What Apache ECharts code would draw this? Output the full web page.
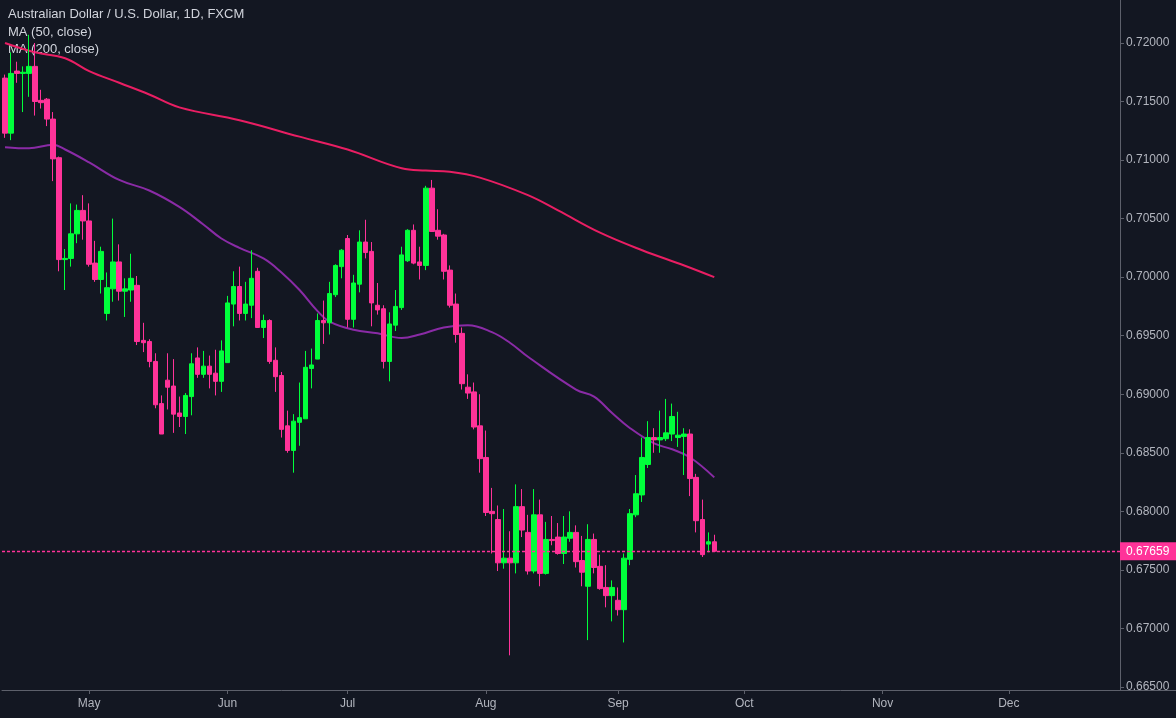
<!DOCTYPE html>
<html><head><meta charset="utf-8">
<script src="https://cdn.jsdelivr.net/npm/echarts@6/dist/echarts.min.js"></script>
<style>html,body{margin:0;padding:0;background:#131722}#c{width:1176px;height:718px}</style>
</head><body><div id="c"></div>
<script>
const startDate = '2019-04-11';
const totalSlots = 186;
const yTicks = [0.665,0.67,0.675,0.68,0.685,0.69,0.695,0.70,0.705,0.71,0.715,0.72];
const lastPrice = 0.67659;
// [open, close, low, high]
const ohlc = [
[0.7170,0.7123,0.7119,0.7173],[0.7123,0.7174,0.7117,0.7192],[0.7176,0.7174,0.7166,0.7184],[0.7174,0.7175,0.7141,0.7180],
[0.7174,0.7180,0.7154,0.7207],[0.7180,0.7150,0.7138,0.7200],[0.7151,0.7149,0.7144,0.7160],[0.7152,0.7135,0.7129,0.7153],
[0.7135,0.7101,0.7082,0.7141],[0.7102,0.7015,0.7005,0.7103],[0.7015,0.7016,0.6989,0.7024],[0.7016,0.7037,0.7009,0.7063],
[0.7037,0.7057,0.7029,0.7062],[0.7057,0.7048,0.7032,0.7070],[0.7048,0.7011,0.7009,0.7063],[0.7012,0.6998,0.6996,0.7031],
[0.6998,0.7022,0.6986,0.7026],[0.6969,0.6991,0.6963,0.7004],[0.6990,0.7013,0.6979,0.7050],[0.7013,0.6988,0.6980,0.7028],
[0.6988,0.6990,0.6966,0.6999],[0.6989,0.6999,0.6979,0.7020],[0.6993,0.6945,0.6942,0.7001],[0.6946,0.6944,0.6936,0.6961],
[0.6945,0.6928,0.6923,0.6947],[0.6928,0.6891,0.6888,0.6935],[0.6892,0.6866,0.6866,0.6899],[0.6912,0.6906,0.6887,0.6935],
[0.6907,0.6883,0.6867,0.6930],[0.6884,0.6881,0.6872,0.6898],[0.6881,0.6899,0.6866,0.6901],[0.6898,0.6926,0.6882,0.6935],
[0.6931,0.6917,0.6914,0.6940],[0.6917,0.6924,0.6914,0.6937],[0.6924,0.6917,0.6905,0.6933],[0.6918,0.6911,0.6899,0.6938],
[0.6911,0.6937,0.6902,0.6946],[0.6927,0.6978,0.6927,0.6984],[0.6977,0.6992,0.6958,0.7005],[0.6992,0.6969,0.6963,0.7009],
[0.6969,0.6977,0.6963,0.6996],[0.6976,0.6999,0.6965,0.7023],[0.7005,0.6957,0.6957,0.7008],[0.6957,0.6963,0.6948,0.6968],
[0.6963,0.6928,0.6926,0.6964],[0.6929,0.6915,0.6902,0.6940],[0.6916,0.6870,0.6863,0.6919],[0.6873,0.6852,0.6850,0.6886],
[0.6852,0.6877,0.6833,0.6883],[0.6876,0.6880,0.6856,0.6910],[0.6879,0.6923,0.6879,0.6937],[0.6922,0.6925,0.6905,0.6939],
[0.6930,0.6963,0.6930,0.6969],[0.6963,0.6961,0.6943,0.6980],[0.6961,0.6986,0.6951,0.6996],[0.6985,0.7010,0.6983,0.7011],
[0.7009,0.7023,0.6999,0.7024],[0.7033,0.6964,0.6957,0.7036],[0.6964,0.6995,0.6957,0.7002],[0.6994,0.7030,0.6987,0.7040],
[0.7030,0.7021,0.7016,0.7049],[0.7022,0.6978,0.6958,0.7030],[0.6976,0.6972,0.6968,0.6995],[0.6973,0.6928,0.6922,0.6976],
[0.6928,0.6960,0.6911,0.6970],[0.6959,0.6975,0.6954,0.6989],[0.6974,0.7019,0.6972,0.7026],[0.7014,0.7040,0.7013,0.7041],
[0.7040,0.7012,0.7011,0.7045],[0.7013,0.7010,0.6998,0.7026],[0.7010,0.7076,0.7006,0.7078],[0.7076,0.7039,0.7039,0.7083],
[0.7040,0.7035,0.7032,0.7058],[0.7036,0.7005,0.6998,0.7037],[0.7006,0.6976,0.6974,0.7010],[0.6977,0.6951,0.6944,0.6986],
[0.6952,0.6909,0.6904,0.6957],[0.6906,0.6901,0.6896,0.6917],[0.6902,0.6872,0.6870,0.6910],[0.6873,0.6845,0.6833,0.6900],
[0.6846,0.6799,0.6796,0.6869],[0.6800,0.6798,0.6764,0.6820],[0.6793,0.6756,0.6749,0.6805],[0.6756,0.6760,0.6751,0.6802],
[0.6760,0.6756,0.6677,0.6783],[0.6756,0.6804,0.6747,0.6823],[0.6804,0.6784,0.6778,0.6819],[0.6782,0.6749,0.6746,0.6797],
[0.6749,0.6797,0.6747,0.6819],[0.6797,0.6747,0.6736,0.6810],[0.6747,0.6776,0.6746,0.6791],[0.6776,0.6775,0.6771,0.6796],
[0.6778,0.6764,0.6763,0.6790],[0.6764,0.6778,0.6755,0.6796],[0.6777,0.6782,0.6774,0.6800],[0.6782,0.6757,0.6752,0.6788],
[0.6758,0.6748,0.6736,0.6779],[0.6736,0.6776,0.6690,0.6789],[0.6776,0.6752,0.6747,0.6781],[0.6753,0.6734,0.6733,0.6763],
[0.6735,0.6728,0.6718,0.6754],[0.6728,0.6735,0.6706,0.6741],[0.6724,0.6716,0.6711,0.6735],[0.6716,0.6760,0.6688,0.6764],
[0.6759,0.6798,0.6754,0.6802],[0.6797,0.6815,0.6795,0.6831],[0.6814,0.6846,0.6808,0.6863],[0.6840,0.6863,0.6837,0.6877],
[0.6863,0.6861,0.6850,0.6871],[0.6861,0.6863,0.6850,0.6886],[0.6862,0.6867,0.6860,0.6896],[0.6866,0.6881,0.6860,0.6892],
[0.6863,0.6865,0.6855,0.6885],[0.6864,0.6866,0.6831,0.6871],[0.6866,0.6828,0.6813,0.6870],[0.6829,0.6792,0.6782,0.6832],
[0.6793,0.6763,0.6761,0.6810],[0.6772,0.6774,0.6765,0.6782],[0.6774,0.67659,0.67659,0.6780]
];
const ma50Idx = [0,4,8,10,14,19,24,29,33,36,39,43,46,49,52,54,58,62,66,69,73,77,81,84,87,95,98,101,104,108,111,114,118];
const ma50Val = [0.7111,0.7110,0.7113,0.7109,0.7098,0.7083,0.7074,0.7060,0.7045,0.7033,0.7025,0.7016,0.7004,0.6989,0.6971,0.6962,0.6955,0.6952,0.6948,0.6951,0.6957,0.6959,0.6953,0.6944,0.6932,0.6904,0.6898,0.6884,0.6871,0.6858,0.6853,0.6846,0.6829];
const ma200Idx = [0,5,10,14,19,24,29,39,49,57,66,70,74,79,87,92,99,106,113,118];
const ma200Val = [0.7200,0.7192,0.7187,0.7176,0.7166,0.7156,0.7145,0.7134,0.7120,0.7109,0.7093,0.7091,0.7090,0.7085,0.7070,0.7057,0.7038,0.7023,0.7010,0.7000];

const months = ['Jan','Feb','Mar','Apr','May','Jun','Jul','Aug','Sep','Oct','Nov','Dec'];
const cats = [];
{ let d = new Date(startDate + 'T00:00:00Z');
  while (cats.length < totalSlots) { const w = d.getUTCDay(); if (w !== 0 && w !== 6) cats.push(d.toISOString().slice(0,10)); d.setUTCDate(d.getUTCDate()+1); } }
function isMonthStart(i){ return i > 0 && cats[i].slice(5,7) !== cats[i-1].slice(5,7); }

const txt = '#b2b5be', font = 'Liberation Sans';
const chart = echarts.init(document.getElementById('c'));
chart.setOption({
  backgroundColor: '#131722',
  animation: false,
  textStyle: { fontFamily: font },
  grid: { left: 2, right: 56, top: 0, bottom: 28 },
  graphic: [
    { type: 'text', left: 8, top: 8, style: { text: 'Australian Dollar / U.S. Dollar, 1D, FXCM', fill: '#d1d4dc', font: '13px ' + font } },
    { type: 'text', left: 8, top: 26, style: { text: 'MA (50, close)', fill: '#d1d4dc', font: '13px ' + font } },
    { type: 'text', left: 8, top: 43, style: { text: 'MA (200, close)', fill: '#d1d4dc', font: '13px ' + font } },
    { type: 'line', shape: { x1: 1120, y1: 690.5, x2: 1176, y2: 690.5 }, style: { stroke: '#5d606b', lineWidth: 1 } }
  ],
  xAxis: {
    type: 'category', data: cats, boundaryGap: true,
    axisLine: { show: true, lineStyle: { color: '#5d606b' } },
    axisTick: { show: true, alignWithLabel: true, length: 4, interval: (i) => isMonthStart(i), lineStyle: { color: '#5d606b' } },
    axisLabel: { color: txt, fontSize: 12, margin: 8, interval: (i) => isMonthStart(i), formatter: (v) => months[+v.slice(5,7)-1] },
    splitLine: { show: false }
  },
  yAxis: {
    type: 'value', position: 'right', min: 0.66474, max: 0.72367, scale: true,
    axisLine: { show: true, lineStyle: { color: '#5d606b' } },
    axisTick: { show: true, length: 4, customValues: yTicks, lineStyle: { color: '#5d606b' } },
    axisLabel: { color: txt, fontSize: 12, margin: 6, customValues: yTicks, formatter: (v) => v.toFixed(5) },
    splitLine: { show: false }
  },
  series: [
    { type: 'line', data: ma200Idx.map((x, k) => [x, ma200Val[k]]), smooth: 0.4, showSymbol: false,
      lineStyle: { color: '#e91e63', width: 2 }, z: 1 },
    { type: 'line', data: ma50Idx.map((x, k) => [x, ma50Val[k]]), smooth: 0.4, showSymbol: false,
      lineStyle: { color: '#8a2ba6', width: 2 }, z: 1 },
    { type: 'candlestick', data: ohlc, barWidth: 5, z: 3,
      itemStyle: { color: '#00ff3b', color0: '#ff3399', borderColor: '#00ff3b', borderColor0: '#ff3399', borderWidth: 1 },
      markLine: { symbol: 'none', silent: true, animation: false, precision: 5,
        lineStyle: { color: '#ff3399', type: [3, 2], width: 1.3, opacity: 1 },
        label: { position: 'end', formatter: lastPrice.toFixed(5), color: '#ffffff', backgroundColor: '#ff3399',
          padding: [3, 8, 3, 6], fontSize: 12, distance: 0 },
        emphasis: { disabled: true },
        data: [{ yAxis: lastPrice, lineStyle: { color: '#ff3399', type: [3, 2], width: 1.3 } }] } }
  ]
});
</script></body></html>
